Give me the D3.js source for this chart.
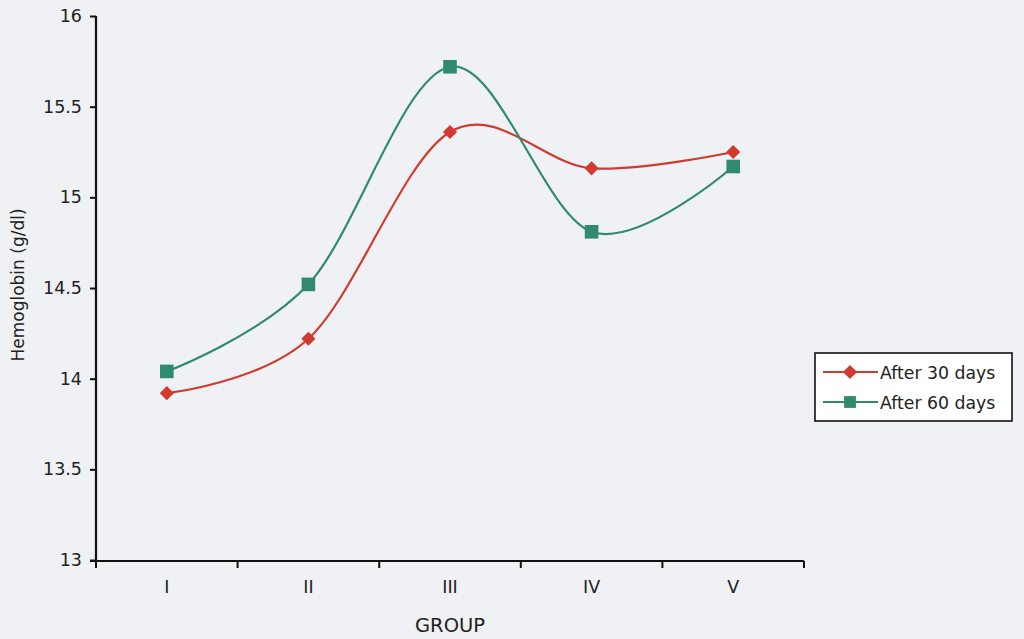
<!DOCTYPE html>
<html>
<head>
<meta charset="utf-8">
<script src="https://cdn.jsdelivr.net/npm/d3@7"></script>
<style>
  html, body { margin: 0; padding: 0; background: #eff1f4; }
  svg { display: block; font-family: "DejaVu Sans", "Liberation Sans", Arial, sans-serif; }
</style>
</head>
<body>
<svg id="chart" width="1024" height="639"></svg>
<script>
// Hemoglobin levels per group, measured after 30 and 60 days
const groups = ["I", "II", "III", "IV", "V"];
const after30 = [13.92, 14.22, 15.36, 15.16, 15.25];
const after60 = [14.04, 14.52, 15.72, 14.81, 15.17];
const yTicks = [13, 13.5, 14, 14.5, 15, 15.5, 16];
const seriesNames = ["After 30 days", "After 60 days"];
const seriesColors = ["#d23a2f", "#2f8a6e"];

const svg = d3.select("#chart");

const x = d3.scaleBand().domain(groups).range([96, 804]);
const y = d3.scaleLinear().domain([13, 16]).range([560, 16]);

// soft paper background
svg.append("rect").attr("width", 1024).attr("height", 639).attr("fill", "#eff1f4");

// axes
const yAxis = d3.axisLeft(y).tickValues(yTicks).tickSize(6).tickPadding(8)
  .tickFormat(d => d3.format("")(d));
const gy = svg.append("g").attr("transform", "translate(96,0)").call(yAxis);
gy.select(".domain").attr("stroke", "#111").attr("stroke-width", 2.2).attr("d", "M0,16V561");
gy.selectAll(".tick line").attr("stroke", "#111").attr("stroke-width", 2);
gy.selectAll(".tick text").attr("font-size", 17.5).attr("fill", "#222")
  .attr("font-family", "DejaVu Sans");

const xAxis = d3.axisBottom(x).tickSize(0).tickPadding(20);
const gx = svg.append("g").attr("transform", "translate(0,561)").call(xAxis);
gx.select(".domain").attr("stroke", "#111").attr("stroke-width", 2.2).attr("d", "M90,0H804");
gx.selectAll(".tick text").attr("font-size", 17.5).attr("fill", "#222")
  .attr("font-family", "DejaVu Sans");

// boundary ticks between categories
const bounds = groups.map(g => x(g)).concat([x.range()[1]]);
svg.append("g").selectAll("line").data(bounds).join("line")
  .attr("x1", d => d).attr("x2", d => d)
  .attr("y1", 561).attr("y2", 568)
  .attr("stroke", "#111").attr("stroke-width", 2);

// axis titles
svg.append("text").attr("x", 450).attr("y", 632).attr("text-anchor", "middle")
  .attr("font-size", 19.5).attr("fill", "#222").text("GROUP");
svg.append("text").attr("transform", "translate(24,285) rotate(-90)")
  .attr("text-anchor", "middle").attr("font-size", 17).attr("fill", "#222")
  .text("Hemoglobin (g/dl)");

// smoothed series lines
const cx = g => x(g) + x.bandwidth() / 2;
const line = d3.line()
  .x((d, i) => cx(groups[i]))
  .y(d => y(d))
  .curve(d3.curveCatmullRom.alpha(0));

const series = [after30, after60];
series.forEach((vals, s) => {
  svg.append("path").datum(vals)
    .attr("d", line).attr("fill", "none")
    .attr("stroke", seriesColors[s]).attr("stroke-width", 2.2);
});

// markers: diamonds (rotated squares) for 30 days, squares for 60 days
const diamond = d3.symbol().type(d3.symbolSquare).size(100);
const square = d3.symbol().type(d3.symbolSquare).size(185);
const markerTransform = (px, py, s) =>
  `translate(${px},${py})` + (s === 0 ? " rotate(45)" : "");
series.forEach((vals, s) => {
  svg.append("g").selectAll("path").data(vals).join("path")
    .attr("transform", (d, i) => markerTransform(cx(groups[i]), y(d), s))
    .attr("d", s === 0 ? diamond : square)
    .attr("fill", seriesColors[s]);
});

// legend
const lg = svg.append("g");
lg.append("rect").attr("x", 815).attr("y", 353).attr("width", 197).attr("height", 68)
  .attr("fill", "#ffffff").attr("stroke", "#111").attr("stroke-width", 1.6);
seriesNames.forEach((name, s) => {
  const yy = 372 + s * 30;
  lg.append("line").attr("x1", 823).attr("x2", 878).attr("y1", yy).attr("y2", yy)
    .attr("stroke", seriesColors[s]).attr("stroke-width", 2.2);
  lg.append("path").attr("transform", markerTransform(850, yy, s))
    .attr("d", s === 0 ? diamond : d3.symbol().type(d3.symbolSquare).size(140))
    .attr("fill", seriesColors[s]);
  lg.append("text").attr("x", 880).attr("y", yy + 6.5).attr("font-size", 17.3)
    .attr("fill", "#222").text(name);
});
</script>
</body>
</html>
